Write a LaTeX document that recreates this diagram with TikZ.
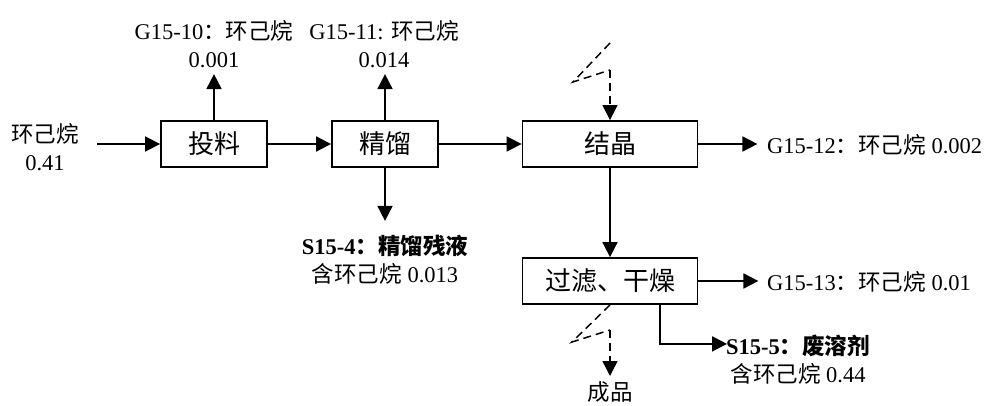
\documentclass[tikz,border=0pt]{standalone}
\usepackage{fontspec}
\usepackage{tikz}
\usetikzlibrary{positioning,arrows.meta,calc}
\setmainfont{Liberation Serif}
\newfontfamily\cjk{Noto Sans CJK SC}
\newcommand{\zh}[1]{{\cjk #1}}
\newcommand{\lbfont}{\fontsize{22.5}{28}\selectfont}
\newcommand{\bxfont}{\fontsize{26}{30}\selectfont}

\begin{document}
\begin{tikzpicture}[x=1pt,y=1pt,
    pbox/.style={draw,line width=1.8pt,shape=rectangle,minimum height=46pt,inner sep=2pt,
                 font=\bxfont},
    lbl/.style={align=center,inner sep=0pt,font=\lbfont},
    flow/.style={-{Triangle[length=15pt,width=15pt]},line width=1.8pt},
    hint/.style={line width=1.5pt,dash pattern=on 8pt off 5pt}]

\useasboundingbox (0,0) rectangle (998,-406);

% ======================= process boxes =================================================
\node[pbox,minimum width=106pt] (feed)  at (214,-144) {\zh{投料}};
\node[pbox,minimum width=106pt] (rect)  at (385,-144) {\zh{精馏}};
\node[pbox,minimum width=175pt] (cryst) at (610,-144) {\zh{结晶}};
\node[pbox,minimum width=175pt] (filt)  at (610,-281) {\zh{过滤、干燥}};

% ======================= main line =====================================================
\coordinate (in) at (97,-144);
\node[lbl] (inlab) at (45,-147) {\zh{环己烷}\\0.41};
\draw[flow] (in) -- (feed.west);
\draw[flow] (feed) -- (rect);
\draw[flow] (rect) -- (cryst);
\draw[flow] (cryst) -- (filt);

% ======================= gas outlets ===================================================
\coordinate (g10) at ($(feed.north)+(0,46)$);
\coordinate (g11) at ($(rect.north)+(0,46)$);
\coordinate (g12) at ($(cryst.east)+(59,0)$);
\coordinate (g13) at ($(filt.east)+(60,0)$);
\draw[flow] (feed.north) -- (g10);
\draw[flow] (rect.north) -- (g11);
\draw[flow] (cryst.east) -- (g12);
\draw[flow] (filt.east)  -- (g13);
\node[lbl] (g10lab) at (214,-44) {G15-10\zh{：}\zh{环己烷}\\0.001};
\node[lbl] (g11lab) at (384,-44) {G15-11: \zh{环己烷}\\0.014};
\node[lbl,anchor=west] (g12lab) at (767,-145) {G15-12\zh{：}\zh{环己烷} 0.002};
\node[lbl,anchor=west] (g13lab) at (767,-282) {G15-13\zh{：}\zh{环己烷} 0.01};

% ======================= solid wastes ==================================================
\coordinate (s4) at ($(rect.south)+(0,-53)$);
\draw[flow] (rect.south) -- (s4);
\node[lbl] (s4lab) at (385,-260) {\textbf{S15-4\zh{：}\zh{精馏残液}}\\\zh{含环己烷} 0.013};
\coordinate (s5a) at ($(filt.south)+(50,0)$);
\coordinate (s5b) at ($(s5a)+(0,-39)$);
\coordinate (s5) at ($(s5b)+(67,0)$);
\draw[flow] (s5a) -- (s5b) -- (s5);
\node[lbl,anchor=west] (s5lab) at (726,-360) {\textbf{S15-5\zh{：}\zh{废溶剂}}\\\zh{含环己烷} 0.44};

% ======================= dashed feeds / product ========================================
\coordinate (z1) at (610,-43);
\coordinate (z2) at (573,-82);
\coordinate (z3) at (610,-70);
\draw[hint] (z1) -- (z2) -- (z3);
\draw[hint,-{Triangle[length=15pt,width=15pt]}] (z3) -- (cryst.north);
\coordinate (p1) at (572,-342);
\coordinate (p2) at (610,-330);
\coordinate (p3) at (610,-376);
\draw[hint] (filt.south) -- (p1) -- (p2);
\draw[hint,-{Triangle[length=15pt,width=15pt]}] (p2) -- (p3);
\node[lbl] (prod) at (610,-392) {\zh{成品}};

\end{tikzpicture}
\end{document}
